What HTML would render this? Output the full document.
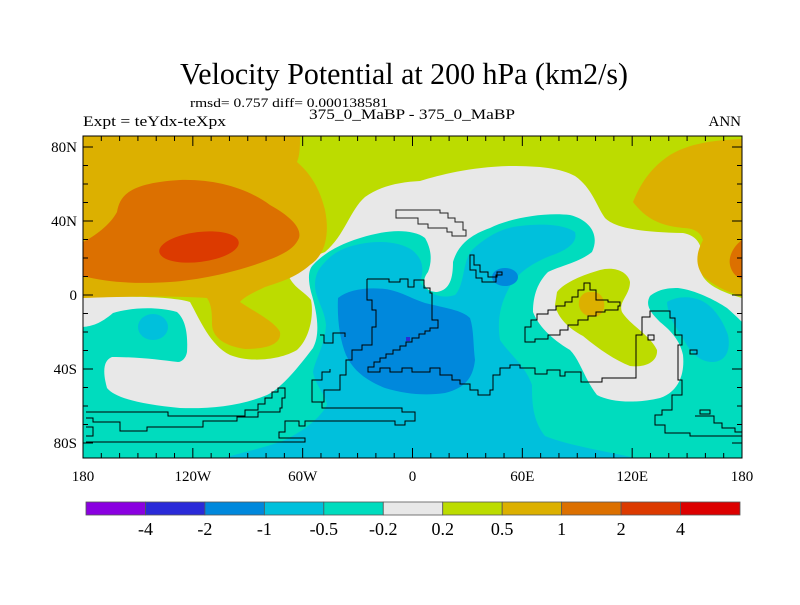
<!DOCTYPE html>
<html><head><meta charset="utf-8"><style>
body{margin:0;background:#fff;}
svg text{font-family:"Liberation Serif",serif;fill:#000;}
</style></head><body>
<svg id="chart" width="800" height="600" viewBox="0 0 800 600" xmlns="http://www.w3.org/2000/svg">
<text x="404" y="84" font-size="31" text-anchor="middle" textLength="448" lengthAdjust="spacingAndGlyphs">Velocity Potential at 200 hPa (km2/s)</text>
<text x="190" y="107" font-size="13" textLength="198" lengthAdjust="spacingAndGlyphs">rmsd= 0.757 diff= 0.000138581</text>
<text x="412" y="119" font-size="15" text-anchor="middle" textLength="206" lengthAdjust="spacingAndGlyphs">375_0_MaBP - 375_0_MaBP</text>
<text x="83" y="126" font-size="15" textLength="143" lengthAdjust="spacingAndGlyphs">Expt = teYdx-teXpx</text>
<text x="741" y="126" font-size="15" text-anchor="end">ANN</text>
<defs><clipPath id="mapclip"><rect x="83" y="136" width="659" height="322"/></clipPath></defs>
<g clip-path="url(#mapclip)">
<rect x="83" y="136" width="659" height="322" fill="#bcdc00"/>
<path fill="#e8e8e8" d="M83,298 C120,296 170,296 190,302 C200,320 210,345 230,355 C250,363 280,360 297,350 C310,338 314,315 311,300 C305,292 292,287 288,274 C290,264 310,258 325,252 C345,235 350,210 365,197 C380,186 400,182 420,181 C440,175 470,167 510,166 C540,166 560,168 575,176 C592,188 596,205 605,218 C615,228 640,232 683,233 C700,236 705,250 700,268 C702,282 715,290 742,298 L742,458 L83,458 Z"/>
<path fill="#bcdc00" d="M557,292 C565,282 583,275 600,270 C615,266 628,272 630,282 C630,295 618,302 622,312 C630,325 650,335 657,350 C658,362 645,368 630,366 C615,360 600,350 583,336 C568,328 558,318 555,305 Z"/>
<path fill="#dcb000" d="M590,292 C600,290 606,300 604,308 C602,316 596,318 588,316 C580,313 577,305 580,298 C583,293 586,292 590,292 Z"/>
<path fill="#dcb000" d="M83,136 L300,136 C300,145 300,155 297,162 C312,175 320,190 325,210 C330,235 325,255 310,265 C295,278 280,282 265,287 C255,292 245,296 240,302 C255,312 275,322 280,332 C282,345 265,349 245,349 C225,346 213,338 212,325 C212,315 212,305 207,298 C180,296 130,296 83,298 Z"/>
<path fill="#dc7000" d="M117,212 C120,195 130,183 180,180 C215,179 247,188 270,205 C290,216 302,228 299,238 C294,250 280,256 260,263 C235,272 200,280 170,282 C140,284 110,283 83,276 L83,242 C95,236 110,225 117,212 Z"/>
<ellipse fill="#dc3a00" cx="199" cy="247" rx="40" ry="15" transform="rotate(-7 199 247)"/>
<path fill="#dcb000" d="M633,202 C640,185 650,168 670,155 C690,143 715,140 742,139 L742,296 C725,292 712,284 703,276 C696,266 695,255 703,240 C700,230 690,228 683,228 C665,226 648,222 633,202 Z"/>
<path fill="#dc7000" d="M742,240 C735,245 728,255 730,265 C732,274 738,278 742,279 Z"/>
<path fill="#00dcbe" d="M83,327 C92,326 100,324 113,313 C130,308 155,306 177,312 C186,320 188,335 187,352 C186,358 182,362 178,362 C160,360 140,357 112,357 C104,360 102,370 107,388 C115,398 140,404 180,408 C210,409 240,406 267,395 C282,388 300,365 313,348 C320,335 318,315 311,292 C308,280 308,270 313,265 C325,252 345,240 380,233 C395,230 415,230 425,238 C432,250 432,262 428,272 C420,282 425,292 437,292 C450,290 453,278 453,262 C458,245 470,235 490,228 C510,218 545,212 570,215 C590,220 600,235 592,252 C580,262 560,266 548,272 C538,282 533,295 533,312 C538,325 550,338 570,350 C580,360 585,380 597,395 C610,402 635,404 660,398 C678,392 685,375 683,355 C680,340 670,330 660,322 C650,312 645,305 650,296 C658,290 665,288 678,288 C695,290 715,300 727,308 C735,315 740,320 742,322 L742,458 L83,458 Z"/>
<ellipse fill="#00c0dc" cx="153" cy="327" rx="15" ry="13"/>
<path fill="#00c0dc" d="M320,268 C330,255 340,248 360,244 C380,240 400,242 412,250 C422,258 425,268 420,282 C425,292 440,300 455,295 C465,285 462,262 472,250 C485,238 500,228 520,226 C545,223 565,225 575,232 C578,242 568,250 550,256 C530,264 515,275 508,290 C500,305 497,322 500,340 C510,355 525,365 532,385 C532,400 532,420 545,436 C570,446 610,452 635,458 L223,458 C245,452 270,446 285,440 C305,430 320,418 327,405 C326,395 315,385 313,372 C315,360 325,345 326,325 C325,310 315,298 315,285 C315,278 317,272 320,268 Z"/>
<path fill="#00c0dc" d="M667,302 C677,296 690,296 700,300 C712,305 722,318 728,335 C731,350 726,362 712,362 C700,362 690,352 684,340 C678,330 668,318 667,302 Z"/>
<path fill="#0088dc" d="M338,298 C348,290 365,287 385,289 C400,291 410,298 425,303 C445,308 462,310 470,318 C474,330 473,345 475,360 C473,378 465,388 445,393 C425,396 405,394 385,388 C365,380 353,370 346,355 C340,340 337,320 338,298 Z"/>
<ellipse fill="#0088dc" cx="505" cy="277" rx="13" ry="9"/>
<rect fill="#2a2ad8" x="406" y="337" width="4" height="4"/>
<g fill="none" stroke="#000" stroke-width="1">
<path d="M396,210 H440 V213 H448 V218 H455 V222 H463 V230 H466 V236 H452 V232 H447 V228 H428 V224 H418 V218 H396 Z" stroke="#222" fill="#e8e8e8"/>
<path d="M367,279 H389 V282 H400 V279 H408 V287 H414 V280 H424 V288 H430 V293 H432 V320 H438 V328 H430 V331 H425 V334 H419 V338 H412 V342 H406 V346 H400 V350 H393 V354 H386 V358 H380 V362 H374 V367 H368 V372 H380 V368 H390 V372 H402 V368 H412 V372 H430 V368 H440 V375 H452 V380 H460 V384 H470 V390 H478 V395 H490 V390 H493 V375 H500 V368 H510 V365 H520 V368 H535 V374 H547 V370 H560 V376 H565 V372 H581 V382 H602 V378 H636 V335 H642 V317 H650 V311 H670 V318 H675 V335 H682 V345 H678 V380 H682 V395 H672 V410 H662 V415 H655 V425 H665 V433 H690 V436 H742"/>
<path d="M367,279 V300 H372 V310 H376 V327 H372 V345 H362 V350 H352 V360 H346 V375 H340 V390 H324 V402 H312 V380 H322 V372 H330 V369"/>
<path d="M320,335 H324 V343 H333 V333 H345 V337"/>
<path d="M470,255 H474 V265 H480 V272 H488 V277 H497 V272 H502 V275 H496 V282 H482 V278 H476 V270 H470 Z"/>
<path d="M525,327 H531 V320 H537 V314 H548 V310 H556 V306 H565 V302 H572 V297 H578 V290 H584 V283 H590 V290 H596 V300 H608 V302 H620 V306 H618 V310 H605 V312 H596 V316 H588 V320 H578 V325 H568 V330 H560 V335 H548 V339 H535 V342 H525 Z"/>
<path d="M86,412 H168 V416 H245 V410 H258 V404 H265 V398 H272 V392 H278 V388 H285 V398 H282 V408 H280 V412 H258 V417 H237 V421 H203 V427 H147 V431 H120 V422 H93 V418 H86"/>
<path d="M86,427 H93 V436 H86"/>
<path d="M86,442 H305 V438 H279 V432 H285 V421 H299 V426 H305 V421 H395 V425 H405 V421 H415 V412 H402 V408 H322 V402 H312"/>
<path d="M695,416 H714 V423 H722 V428 H735 V432 H742"/>
<path d="M700,410 H710 V414 H700 Z M690,350 H697 V354 H690 Z M648,335 H654 V340 H648 Z"/>
</g>
</g>
<rect x="83" y="136" width="659" height="322" fill="none" stroke="#000" stroke-width="1"/>
<g id="ticks" stroke="#000" stroke-width="1"></g>
<g id="xlabels"></g>
<g id="ylabels"></g>
<g id="colorbar"></g>
</svg>
<script>
const levelLabels = ["-4","-2","-1","-0.5","-0.2","0.2","0.5","1","2","4"];
const levelColors = ["#8a00e0","#2a2ad8","#0088dc","#00c0dc","#00dcbe","#e8e8e8","#bcdc00","#dcb000","#dc7000","#dc3a00","#dc0000"];
const lonTicks = [-180,-120,-60,0,60,120,180];
const lonLabels = ["180","120W","60W","0","60E","120E","180"];
const latTicks = [80,40,0,-40,-80];
const latLabels = ["80N","40N","0","40S","80S"];
const NS="http://www.w3.org/2000/svg";
const X0=83,X1=742,Y0=136,Y1=458;
function xLon(l){return X0+(l+180)/360*(X1-X0);}
function yLat(l){return 295-l*1.85;}
function mk(tag,attrs,parent){const e=document.createElementNS(NS,tag);for(const k in attrs)e.setAttribute(k,attrs[k]);parent.appendChild(e);return e;}
const tg=document.getElementById('ticks');
for(let l=-180;l<=180;l+=10){
  const x=xLon(l),len=(l%60===0)?10:5;
  let t=mk('line',{x1:x,x2:x,y1:Y1,y2:Y1-len},tg);
  
  t=mk('line',{x1:x,x2:x,y1:Y0,y2:Y0+len},tg);
  
}
for(let l=-80;l<=80;l+=10){
  const y=yLat(l),len=(l%40===0)?10:5;
  let t=mk('line',{x1:X0,x2:X0+len,y1:y,y2:y},tg);
  
  t=mk('line',{x1:X1,x2:X1-len,y1:y,y2:y},tg);
  
}
const xg=document.getElementById('xlabels');
lonTicks.forEach((l,i)=>{const t=mk('text',{x:xLon(l),y:481,'font-size':15,'text-anchor':'middle'},xg);t.textContent=lonLabels[i];
});
const yg=document.getElementById('ylabels');
latTicks.forEach((l,i)=>{const t=mk('text',{x:77,y:yLat(l)+5,'font-size':15,'text-anchor':'end'},yg);t.textContent=latLabels[i];
});
const cg=document.getElementById('colorbar');
const CB0=86,CB1=740,bw=(CB1-CB0)/levelColors.length;
levelColors.forEach((c,i)=>{const r=mk('rect',{x:CB0+i*bw,y:502,width:bw,height:13,fill:c,stroke:'#555','stroke-width':0.8},cg);
});
levelLabels.forEach((s,i)=>{const t=mk('text',{x:CB0+(i+1)*bw,y:535,'font-size':18,'text-anchor':'middle'},cg);t.textContent=s;
});
</script>
</body></html>
